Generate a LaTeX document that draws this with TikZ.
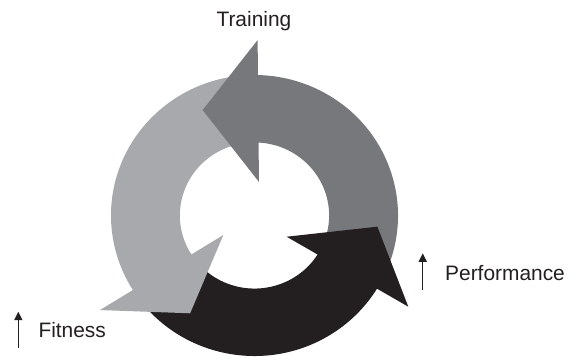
\documentclass[tikz,border=0pt]{standalone}
\usepackage{fontspec}
\setmainfont{Liberation Sans}
\usetikzlibrary{arrows.meta}
\definecolor{ringdark}{HTML}{77787B}
\definecolor{ringlight}{HTML}{A7A9AC}
\definecolor{ringblack}{HTML}{231F20}
\begin{document}
\begin{tikzpicture}[x=1pt,y=1pt,
  lbl/.style={font=\fontsize{20.9}{24}\selectfont, text=ringblack, inner sep=0pt},
  uparrow/.style={draw=ringblack, line width=1.4pt, -{Triangle[length=8.5pt,width=8pt]}},
]
\path[use as bounding box] (0,0) rectangle (581,360);
\begin{scope}[shift={(254.5,144.5)}, xscale=143.5, yscale=140.5]
  % bodies
  \fill[ringdark] (-29:1) arc[start angle=-29, end angle=90, radius=1]
     -- (90:0.52) arc[start angle=90, end angle=-29, radius=0.52] -- cycle;
  \fill[ringlight] (91:1) arc[start angle=91, end angle=214, radius=1]
     -- (214:0.52) arc[start angle=214, end angle=91, radius=0.52] -- cycle;
  \fill[ringblack] (215:1) arc[start angle=215, end angle=330.5, radius=1]
     -- (330.5:0.52) arc[start angle=330.5, end angle=215, radius=0.52] -- cycle;
  % heads
  \fill[ringdark] (89:1.249) -- (115.7:0.833) -- (82.6:0.241) -- cycle;
  \fill[ringlight] (212:1.27) -- (237.2:0.828) -- (212.6:0.258) -- cycle;
  \fill[ringblack] (-31.2:1.253) -- (-5.3:0.86) -- (-34:0.27) -- cycle;
\end{scope}
\node[lbl, anchor=base] (training) at (253.9,333.3) {Training};
\node[lbl, anchor=base west] (performance) at (445.0,80) {Performance};
\node[lbl, anchor=base west] (fitness) at (38.3,22.3) {Fitness};
\coordinate (pa0) at (422.7,70);
\coordinate (pa1) at (422.7,106.7);
\coordinate (fa0) at (18.3,11.7);
\coordinate (fa1) at (18.3,48.3);
\draw[uparrow] (pa0) -- (pa1);
\draw[uparrow] (fa0) -- (fa1);
\end{tikzpicture}
\end{document}
